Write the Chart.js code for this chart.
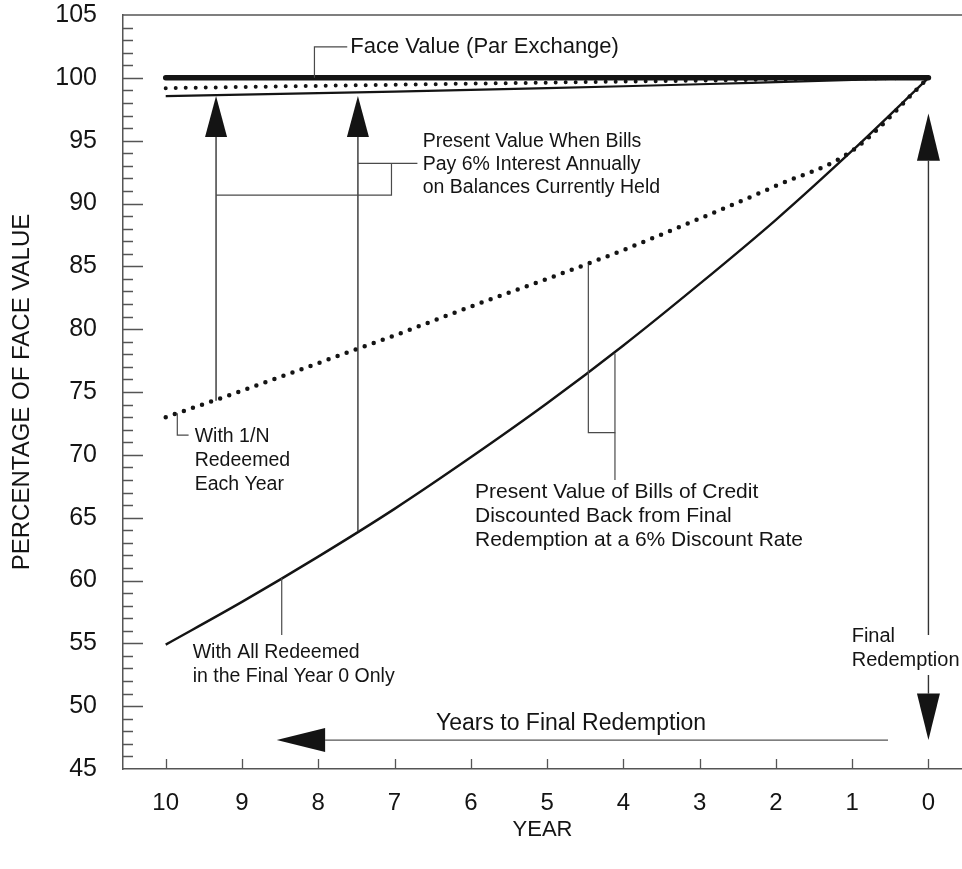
<!DOCTYPE html>
<html><head><meta charset="utf-8">
<script src="https://cdn.jsdelivr.net/npm/chart.js@4.4.1/dist/chart.umd.min.js"></script>
<style>html,body{margin:0;padding:0;background:#fff;}#wrap{width:962px;height:869px;}</style>
</head><body><div id="wrap"><canvas id="c" width="962" height="869"></canvas></div>
<script>
// ---- data ----
const years = [10, 9, 8, 7, 6, 5, 4, 3, 2, 1, 0];
const faceValue = [100, 100, 100, 100, 100, 100, 100, 100, 100, 100, 100];
const pvInterestOneN = [99.18, 99.27, 99.36, 99.45, 99.54, 99.62, 99.70, 99.78, 99.86, 99.93, 100];
const pvInterestAllFinal = [98.55, 98.67, 98.79, 98.91, 99.04, 99.18, 99.33, 99.49, 99.66, 99.83, 100];
const pvOneN = [73.0, 75.1, 77.3, 79.5, 81.8, 84.0, 86.3, 88.8, 91.4, 94.2, 100];
const pvAllFinal = [54.9, 58.3, 61.9, 65.7, 69.8, 74.1, 78.7, 83.6, 88.7, 94.2, 100];
const xTickValues = [10, 9, 8, 7, 6, 5, 4, 3, 2, 1, 0];
const yTickValues = [45, 50, 55, 60, 65, 70, 75, 80, 85, 90, 95, 100, 105];

const FONT = "'Liberation Sans', Arial, Helvetica, sans-serif";
const INK = '#141414';
const THIN = '#4a4a4a';

const pts = vals => years.map((x, i) => ({ x, y: vals[i] }));

// annotation layout (in data units: year, percentage)
const notes = {
  face: { lead: [[8.05, 100], [8.05, 102.46], [7.62, 102.46]], text: ['Face Value (Par Exchange)'], at: [7.58, 102.46], size: 22 },
  pvInt: { text: ['Present Value When Bills', 'Pay 6% Interest Annually', 'on Balances Currently Held'], at: [6.63, 94.9], size: 19.5, lh: 23 },
  oneN: { lead: [[9.848, 73.3], [9.848, 71.57], [9.70, 71.57]], text: ['With 1/N', 'Redeemed', 'Each Year'], at: [9.62, 71.44], size: 19.5, lh: 24 },
  allFinal: { lead: [[8.479, 60.2], [8.479, 55.66]], text: ['With All Redeemed', 'in the Final Year 0 Only'], at: [9.646, 54.25], size: 19.5, lh: 23.5 },
  pvDisc: { text: ['Present Value of Bills of Credit', 'Discounted Back from Final', 'Redemption at a 6% Discount Rate'], at: [5.945, 67.06], size: 21, lh: 24.2 },
  finalR: { text: ['Final', 'Redemption'], at: [1.006, 55.52], size: 20, lh: 23.3 },
  years: { text: ['Years to Final Redemption'], at: [4.686, 48.58], size: 23 }
};

const frameTicks = {
  id: 'frameTicks',
  beforeDatasetsDraw(chart) {
    const { ctx, chartArea: ca, scales: { x, y } } = chart;
    ctx.save();
    ctx.strokeStyle = '#555';
    ctx.lineWidth = 1.3;
    ctx.beginPath();
    ctx.moveTo(ca.left, ca.top); ctx.lineTo(ca.right, ca.top);
    for (let v = 46; v <= 104; v++) {
      const py = Math.round(y.getPixelForValue(v)) + 0.5;
      const len = (v % 5 === 0) ? 20 : 10;
      ctx.moveTo(ca.left, py); ctx.lineTo(ca.left + len, py);
    }
    xTickValues.forEach(v => {
      const px = Math.round(x.getPixelForValue(v)) + 0.5;
      ctx.moveTo(px, ca.bottom); ctx.lineTo(px, ca.bottom - 10);
    });
    ctx.stroke();
    ctx.restore();
  }
};

const annot = {
  id: 'annot',
  afterDatasetsDraw(chart) {
    const { ctx, scales: { x, y } } = chart;
    const X = v => x.getPixelForValue(v), Y = v => y.getPixelForValue(v);
    ctx.save();
    const poly = (arr, color, w) => {
      ctx.strokeStyle = color || THIN; ctx.lineWidth = w || 1.2;
      ctx.beginPath();
      arr.forEach((p, i) => { const px = X(p[0]), py = Y(p[1]); i ? ctx.lineTo(px, py) : ctx.moveTo(px, py); });
      ctx.stroke();
    };
    const triV = (xv, tipV, baseV, hw) => {
      const cx = X(xv);
      ctx.fillStyle = INK; ctx.beginPath();
      ctx.moveTo(cx, Y(tipV)); ctx.lineTo(cx - hw, Y(baseV)); ctx.lineTo(cx + hw, Y(baseV)); ctx.closePath(); ctx.fill();
    };
    const triH = (yv, tipX, baseX, hh) => {
      const cy = Y(yv);
      ctx.fillStyle = INK; ctx.beginPath();
      ctx.moveTo(X(tipX), cy); ctx.lineTo(X(baseX), cy - hh); ctx.lineTo(X(baseX), cy + hh); ctx.closePath(); ctx.fill();
    };
    const text = (n, align) => {
      ctx.fillStyle = INK;
      ctx.font = n.size + 'px ' + FONT;
      ctx.textBaseline = 'middle';
      ctx.textAlign = align || 'left';
      const lh = n.lh || 0;
      n.text.forEach((t, i) => ctx.fillText(t, X(n.at[0]), Y(n.at[1]) + i * lh));
    };

    poly(notes.face.lead); text(notes.face);

    poly([[9.34, 74.3], [9.34, 95.3]], '#333', 1.4);
    triV(9.34, 98.55, 95.3, 11);
    poly([[7.48, 63.9], [7.48, 95.3]], '#333', 1.4);
    triV(7.48, 98.55, 95.3, 11);
    poly([[9.34, 90.66], [7.04, 90.66], [7.04, 93.19]]);
    poly([[7.48, 93.19], [6.70, 93.19]]);
    text(notes.pvInt);

    poly(notes.oneN.lead); text(notes.oneN);
    poly(notes.allFinal.lead); text(notes.allFinal);

    poly([[4.459, 85.15], [4.459, 71.77], [4.110, 71.77], [4.110, 78.07]]);
    poly([[4.110, 71.77], [4.110, 67.99]]);
    text(notes.pvDisc);

    poly([[0, 93.4], [0, 55.66]], '#333', 1.4);
    triV(0, 97.17, 93.4, 11.5);
    poly([[0, 52.48], [0, 51.0]], '#333', 1.4);
    triV(0, 47.3, 51.0, 11.5);
    text(notes.finalR);

    poly([[0.53, 47.3], [7.91, 47.3]], '#555', 1.4);
    triH(47.3, 8.545, 7.91, 12);
    text(notes.years, 'center');

    ctx.restore();
  }
};

new Chart(document.getElementById('c'), {
  type: 'line',
  data: {
    datasets: [
      { label: 'With 1/N Redeemed Each Year', data: pts(pvOneN), borderColor: INK, borderWidth: 4.5, borderDash: [0, 9.6], borderCapStyle: 'round', cubicInterpolationMode: 'monotone', pointRadius: 0, fill: false },
      { label: 'With All Redeemed in the Final Year 0 Only', data: pts(pvAllFinal), borderColor: INK, borderWidth: 2.4, cubicInterpolationMode: 'monotone', pointRadius: 0, fill: false },
      { label: 'Interest, 1/N redeemed', data: pts(pvInterestOneN), borderColor: INK, borderWidth: 4, borderDash: [0, 10], borderCapStyle: 'round', pointRadius: 0, fill: false },
      { label: 'Interest, all redeemed at end', data: pts(pvInterestAllFinal), borderColor: INK, borderWidth: 2.2, cubicInterpolationMode: 'monotone', pointRadius: 0, fill: false },
      { label: 'Face Value (Par Exchange)', data: pts(faceValue), borderColor: INK, borderWidth: 5.5, borderCapStyle: 'round', pointRadius: 0, fill: false }
    ]
  },
  options: {
    responsive: false,
    animation: false,
    devicePixelRatio: 1,
    layout: { padding: { top: 15, right: 0, left: 0, bottom: 0 } },
    plugins: { legend: { display: false }, tooltip: { enabled: false } },
    scales: {
      x: {
        type: 'linear', reverse: true, min: -0.44, max: 10.56,
        afterBuildTicks: s => { s.ticks = xTickValues.map(v => ({ value: v })); },
        afterFit: s => { s.height = 100; s.paddingLeft = 0; s.paddingRight = 0; },
        grid: { display: false, drawTicks: false },
        border: { display: true, color: '#555', width: 1.5 },
        ticks: { color: INK, font: { family: FONT, size: 24 }, padding: 20, maxRotation: 0, autoSkip: false },
        title: { display: true, text: 'YEAR', color: INK, font: { family: FONT, size: 22 }, padding: { top: 0, bottom: 26 } }
      },
      y: {
        type: 'linear', min: 45, max: 105,
        afterBuildTicks: s => { s.ticks = yTickValues.map(v => ({ value: v })); },
        afterFit: s => { s.width = 123; s.paddingTop = 0; s.paddingBottom = 0; },
        grid: { display: false, drawTicks: false },
        border: { display: true, color: '#555', width: 1.5 },
        ticks: { color: INK, font: { family: FONT, size: 25 }, padding: 26 },
        title: { display: true, text: 'PERCENTAGE OF FACE VALUE', color: INK, font: { family: FONT, size: 24 }, padding: { top: 8, bottom: 0 } }
      }
    }
  },
  plugins: [frameTicks, annot]
});
</script>
</body></html>
